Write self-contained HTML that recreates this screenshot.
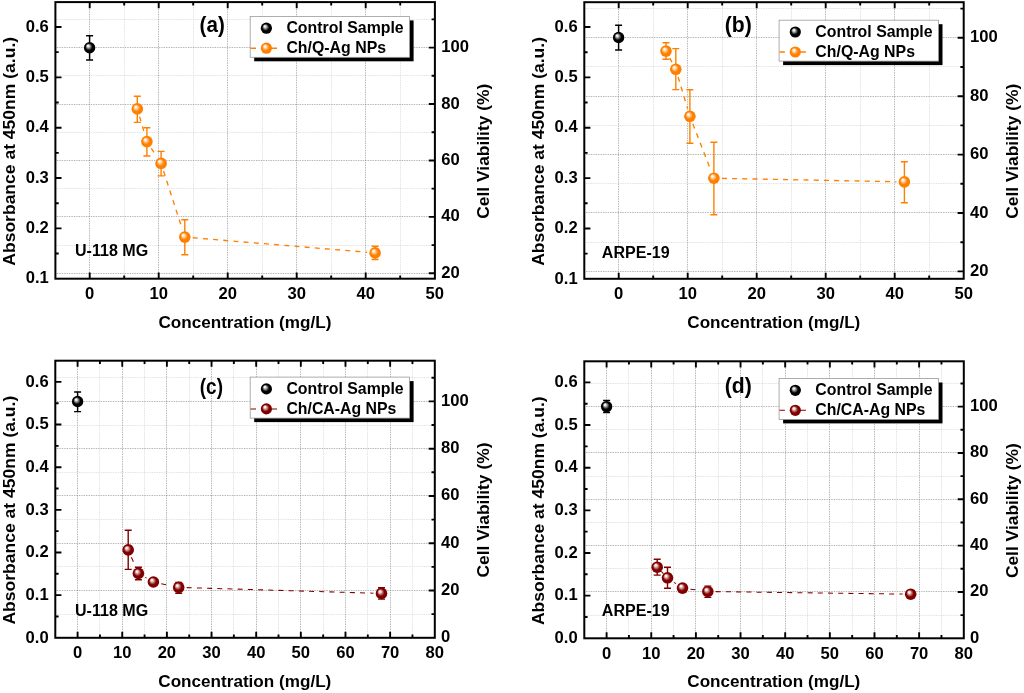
<!DOCTYPE html>
<html lang="en"><head><meta charset="utf-8"><title>Cell viability plots</title>
<style>html,body{margin:0;padding:0;background:#fff}body{width:1024px;height:693px;overflow:hidden}svg{display:block}text{font-family:'Liberation Sans', sans-serif;font-weight:bold;fill:#000}</style>
</head><body>
<svg width="1024" height="693" viewBox="0 0 1024 693">
<defs>
<radialGradient id="gk" cx="0.5" cy="0.5" r="0.5" fx="0.34" fy="0.31"><stop offset="0" stop-color="#f0f0f0"/><stop offset="0.14" stop-color="#f0f0f0"/><stop offset="0.62" stop-color="#000000"/><stop offset="1" stop-color="#000000"/></radialGradient>
<radialGradient id="go" cx="0.5" cy="0.5" r="0.5" fx="0.34" fy="0.31"><stop offset="0" stop-color="#fff6ea"/><stop offset="0.14" stop-color="#fff6ea"/><stop offset="0.62" stop-color="#FF8000"/><stop offset="1" stop-color="#FF8000"/></radialGradient>
<radialGradient id="gw" cx="0.5" cy="0.5" r="0.5" fx="0.34" fy="0.31"><stop offset="0" stop-color="#fff0f0"/><stop offset="0.14" stop-color="#fff0f0"/><stop offset="0.62" stop-color="#800000"/><stop offset="1" stop-color="#800000"/></radialGradient>
</defs>
<rect width="1024" height="693" fill="#fff"/>
<g>
<path d="M124.5 2.1V278.7M193.5 2.1V278.7M262.5 2.1V278.7M331.5 2.1V278.7M400.5 2.1V278.7M55.4 245.5H434.9M55.4 188.5H434.9M55.4 132.5H434.9M55.4 75.5H434.9M55.4 19.5H434.9" stroke="#cfcfcf" stroke-width="0.75" stroke-dasharray="0.8 0.9" fill="none"/>
<path d="M89.5 2.1V278.7M158.5 2.1V278.7M227.5 2.1V278.7M296.5 2.1V278.7M365.5 2.1V278.7M55.4 273.5H434.9M55.4 216.5H434.9M55.4 160.5H434.9M55.4 104.5H434.9M55.4 47.5H434.9" stroke="#868686" stroke-width="0.75" stroke-dasharray="0.8 0.9" fill="none"/>
<path d="M89.7 278.7v-6.1M89.7 2.1v6.1M124.2 278.7v-3.3M124.2 2.1v3.3M158.7 278.7v-6.1M158.7 2.1v6.1M193.2 278.7v-3.3M193.2 2.1v3.3M227.7 278.7v-6.1M227.7 2.1v6.1M262.2 278.7v-3.3M262.2 2.1v3.3M296.7 278.7v-6.1M296.7 2.1v6.1M331.2 278.7v-3.3M331.2 2.1v3.3M365.7 278.7v-6.1M365.7 2.1v6.1M400.2 278.7v-3.3M400.2 2.1v3.3M55.4 228.36h6.1M55.4 178.02h6.1M55.4 127.68h6.1M55.4 77.34h6.1M55.4 27h6.1M55.4 253.53h3.3M55.4 203.19h3.3M55.4 152.85h3.3M55.4 102.51h3.3M55.4 52.17h3.3M434.9 273.32h-6.1M434.9 216.89h-6.1M434.9 160.46h-6.1M434.9 104.03h-6.1M434.9 47.6h-6.1M434.9 245.1h-3.3M434.9 188.67h-3.3M434.9 132.25h-3.3M434.9 75.81h-3.3M434.9 19.39h-3.3" stroke="#000" stroke-width="1.9" fill="none"/>
<rect x="55.4" y="2.1" width="379.5" height="276.6" fill="none" stroke="#000" stroke-width="2"/>
<text x="89.7" y="298.9" font-size="16.6" text-anchor="middle">0</text>
<text x="158.7" y="298.9" font-size="16.6" text-anchor="middle">10</text>
<text x="227.7" y="298.9" font-size="16.6" text-anchor="middle">20</text>
<text x="296.7" y="298.9" font-size="16.6" text-anchor="middle">30</text>
<text x="365.7" y="298.9" font-size="16.6" text-anchor="middle">40</text>
<text x="434.7" y="298.9" font-size="16.6" text-anchor="middle">50</text>
<text x="48.8" y="283.4" font-size="16.6" text-anchor="end">0.1</text>
<text x="48.8" y="233.06" font-size="16.6" text-anchor="end">0.2</text>
<text x="48.8" y="182.72" font-size="16.6" text-anchor="end">0.3</text>
<text x="48.8" y="132.38" font-size="16.6" text-anchor="end">0.4</text>
<text x="48.8" y="82.04" font-size="16.6" text-anchor="end">0.5</text>
<text x="48.8" y="31.7" font-size="16.6" text-anchor="end">0.6</text>
<text x="441.2" y="277.82" font-size="16.6" text-anchor="start">20</text>
<text x="441.2" y="221.39" font-size="16.6" text-anchor="start">40</text>
<text x="441.2" y="164.96" font-size="16.6" text-anchor="start">60</text>
<text x="441.2" y="108.53" font-size="16.6" text-anchor="start">80</text>
<text x="441.2" y="52.1" font-size="16.6" text-anchor="start">100</text>
<text x="14.8" y="151.3" font-size="17.4" text-anchor="middle" textLength="228.8" lengthAdjust="spacingAndGlyphs" transform="rotate(-90 14.8 151.3)">Absorbance at 450nm (a.u.)</text>
<text x="489.3" y="151.2" font-size="17.4" text-anchor="middle" textLength="135" lengthAdjust="spacingAndGlyphs" transform="rotate(-90 489.3 151.2)">Cell Viability (%)</text>
<text x="244.9" y="327.5" font-size="17.1" text-anchor="middle" textLength="173" lengthAdjust="spacingAndGlyphs">Concentration (mg/L)</text>
<text x="199.6" y="32" font-size="21.6" text-anchor="start" textLength="25.2" lengthAdjust="spacingAndGlyphs">(a)</text>
<text x="75" y="255.7" font-size="15.8" text-anchor="start" textLength="73.2" lengthAdjust="spacingAndGlyphs">U-118 MG</text>
<path d="M139.55 116.58L144.65 133.92M151.27 148.3L156.73 156.7M163.55 171.02L182.35 229.48M192.77 237.76L367.13 252.24" stroke="#FF8000" stroke-width="1.35" stroke-dasharray="5 5.2" fill="none"/>
<path d="M89.6 35.7V59.9M86.1 35.7H93.1M86.1 59.9H93.1" stroke="#000" stroke-width="1.45" fill="none"/>
<circle cx="89.6" cy="47.7" r="5.7" fill="url(#gk)"/>
<path d="M137.3 96.2V122.4M133.8 96.2H140.8M133.8 122.4H140.8" stroke="#FF8000" stroke-width="1.4" fill="none"/>
<path d="M146.9 127.8V156M143.4 127.8H150.4M143.4 156H150.4" stroke="#FF8000" stroke-width="1.4" fill="none"/>
<path d="M161.1 151.4V175.9M157.6 151.4H164.6M157.6 175.9H164.6" stroke="#FF8000" stroke-width="1.4" fill="none"/>
<path d="M184.8 219.7V254.8M181.3 219.7H188.3M181.3 254.8H188.3" stroke="#FF8000" stroke-width="1.4" fill="none"/>
<path d="M375.1 246.3V259.5M371.6 246.3H378.6M371.6 259.5H378.6" stroke="#FF8000" stroke-width="1.4" fill="none"/>
<circle cx="137.3" cy="108.9" r="5.8" fill="url(#go)"/>
<circle cx="146.9" cy="141.6" r="5.8" fill="url(#go)"/>
<circle cx="161.1" cy="163.4" r="5.8" fill="url(#go)"/>
<circle cx="184.8" cy="237.1" r="5.8" fill="url(#go)"/>
<circle cx="375.1" cy="252.9" r="5.8" fill="url(#go)"/>
<rect x="254.2" y="20.4" width="159.4" height="40.9" fill="#000"/>
<rect x="250.2" y="16.4" width="159.4" height="40.9" fill="#fff" stroke="#9a9a9a" stroke-width="0.8"/>
<path d="M250.6 48.2h5.4M271.4 48.2h5.6" stroke="#FF8000" stroke-width="1.35" fill="none"/>
<circle cx="266.4" cy="28.2" r="5.6" fill="url(#gk)"/>
<circle cx="266.4" cy="48.2" r="5.6" fill="url(#go)"/>
<text x="286.4" y="33.2" font-size="15.9" text-anchor="start" textLength="117.3" lengthAdjust="spacingAndGlyphs">Control Sample</text>
<text x="286.4" y="53.1" font-size="15.9" text-anchor="start" textLength="99.7" lengthAdjust="spacingAndGlyphs">Ch/Q-Ag NPs</text>
</g>
<g>
<path d="M653.5 2.2V278.8M722.5 2.2V278.8M791.5 2.2V278.8M860.5 2.2V278.8M929.5 2.2V278.8M584.3 242.5H963.7M584.3 183.5H963.7M584.3 125.5H963.7M584.3 66.5H963.7M584.3 8.5H963.7" stroke="#cfcfcf" stroke-width="0.75" stroke-dasharray="0.8 0.9" fill="none"/>
<path d="M618.5 2.2V278.8M687.5 2.2V278.8M756.5 2.2V278.8M825.5 2.2V278.8M894.5 2.2V278.8M584.3 271.5H963.7M584.3 212.5H963.7M584.3 154.5H963.7M584.3 96.5H963.7M584.3 37.5H963.7" stroke="#868686" stroke-width="0.75" stroke-dasharray="0.8 0.9" fill="none"/>
<path d="M618.7 278.8v-6.1M618.7 2.2v6.1M653.2 278.8v-3.3M653.2 2.2v3.3M687.7 278.8v-6.1M687.7 2.2v6.1M722.2 278.8v-3.3M722.2 2.2v3.3M756.7 278.8v-6.1M756.7 2.2v6.1M791.2 278.8v-3.3M791.2 2.2v3.3M825.7 278.8v-6.1M825.7 2.2v6.1M860.2 278.8v-3.3M860.2 2.2v3.3M894.7 278.8v-6.1M894.7 2.2v6.1M929.2 278.8v-3.3M929.2 2.2v3.3M584.3 228.44h6.1M584.3 178.08h6.1M584.3 127.72h6.1M584.3 77.36h6.1M584.3 27h6.1M584.3 253.62h3.3M584.3 203.26h3.3M584.3 152.9h3.3M584.3 102.54h3.3M584.3 52.18h3.3M963.7 271.4h-6.1M963.7 213h-6.1M963.7 154.6h-6.1M963.7 96.2h-6.1M963.7 37.8h-6.1M963.7 242.2h-3.3M963.7 183.8h-3.3M963.7 125.4h-3.3M963.7 67h-3.3M963.7 8.6h-3.3" stroke="#000" stroke-width="1.9" fill="none"/>
<rect x="584.3" y="2.2" width="379.4" height="276.6" fill="none" stroke="#000" stroke-width="2"/>
<text x="618.7" y="299" font-size="16.6" text-anchor="middle">0</text>
<text x="687.7" y="299" font-size="16.6" text-anchor="middle">10</text>
<text x="756.7" y="299" font-size="16.6" text-anchor="middle">20</text>
<text x="825.7" y="299" font-size="16.6" text-anchor="middle">30</text>
<text x="894.7" y="299" font-size="16.6" text-anchor="middle">40</text>
<text x="963.7" y="299" font-size="16.6" text-anchor="middle">50</text>
<text x="577.7" y="283.5" font-size="16.6" text-anchor="end">0.1</text>
<text x="577.7" y="233.14" font-size="16.6" text-anchor="end">0.2</text>
<text x="577.7" y="182.78" font-size="16.6" text-anchor="end">0.3</text>
<text x="577.7" y="132.42" font-size="16.6" text-anchor="end">0.4</text>
<text x="577.7" y="82.06" font-size="16.6" text-anchor="end">0.5</text>
<text x="577.7" y="31.7" font-size="16.6" text-anchor="end">0.6</text>
<text x="970" y="275.9" font-size="16.6" text-anchor="start">20</text>
<text x="970" y="217.5" font-size="16.6" text-anchor="start">40</text>
<text x="970" y="159.1" font-size="16.6" text-anchor="start">60</text>
<text x="970" y="100.7" font-size="16.6" text-anchor="start">80</text>
<text x="970" y="42.3" font-size="16.6" text-anchor="start">100</text>
<text x="543.7" y="151.4" font-size="17.4" text-anchor="middle" textLength="228.8" lengthAdjust="spacingAndGlyphs" transform="rotate(-90 543.7 151.4)">Absorbance at 450nm (a.u.)</text>
<text x="1018.1" y="151.3" font-size="17.4" text-anchor="middle" textLength="135" lengthAdjust="spacingAndGlyphs" transform="rotate(-90 1018.1 151.3)">Cell Viability (%)</text>
<text x="773.8" y="327.6" font-size="17.1" text-anchor="middle" textLength="173" lengthAdjust="spacingAndGlyphs">Concentration (mg/L)</text>
<text x="724.8" y="31.6" font-size="21.6" text-anchor="start" textLength="27" lengthAdjust="spacingAndGlyphs">(b)</text>
<text x="601.8" y="258.4" font-size="15.8" text-anchor="start" textLength="67.8" lengthAdjust="spacingAndGlyphs">ARPE-19</text>
<path d="M669.79 58.14L672.01 62.26M678.1 76.96L687.6 108.64M692.79 123.76L711.01 170.74M721.9 178.36L896.4 181.74" stroke="#FF8000" stroke-width="1.35" stroke-dasharray="5 5.2" fill="none"/>
<path d="M618.6 25.2V50M615.1 25.2H622.1M615.1 50H622.1" stroke="#000" stroke-width="1.45" fill="none"/>
<circle cx="618.6" cy="37.5" r="5.7" fill="url(#gk)"/>
<path d="M666 42.8V59.2M662.5 42.8H669.5M662.5 59.2H669.5" stroke="#FF8000" stroke-width="1.4" fill="none"/>
<path d="M675.8 48.6V89.6M672.3 48.6H679.3M672.3 89.6H679.3" stroke="#FF8000" stroke-width="1.4" fill="none"/>
<path d="M689.9 89.8V143.3M686.4 89.8H693.4M686.4 143.3H693.4" stroke="#FF8000" stroke-width="1.4" fill="none"/>
<path d="M713.9 142.3V214.7M710.4 142.3H717.4M710.4 214.7H717.4" stroke="#FF8000" stroke-width="1.4" fill="none"/>
<path d="M904.4 161.8V202.8M900.9 161.8H907.9M900.9 202.8H907.9" stroke="#FF8000" stroke-width="1.4" fill="none"/>
<circle cx="666" cy="51.1" r="5.8" fill="url(#go)"/>
<circle cx="675.8" cy="69.3" r="5.8" fill="url(#go)"/>
<circle cx="689.9" cy="116.3" r="5.8" fill="url(#go)"/>
<circle cx="713.9" cy="178.2" r="5.8" fill="url(#go)"/>
<circle cx="904.4" cy="181.9" r="5.8" fill="url(#go)"/>
<rect x="783.1" y="24.2" width="159.4" height="40.9" fill="#000"/>
<rect x="779.1" y="20.2" width="159.4" height="40.9" fill="#fff" stroke="#9a9a9a" stroke-width="0.8"/>
<path d="M779.5 52h5.4M800.3 52h5.6" stroke="#FF8000" stroke-width="1.35" fill="none"/>
<circle cx="795.3" cy="32" r="5.6" fill="url(#gk)"/>
<circle cx="795.3" cy="52" r="5.6" fill="url(#go)"/>
<text x="815.3" y="37" font-size="15.9" text-anchor="start" textLength="117.3" lengthAdjust="spacingAndGlyphs">Control Sample</text>
<text x="815.3" y="56.9" font-size="15.9" text-anchor="start" textLength="99.7" lengthAdjust="spacingAndGlyphs">Ch/Q-Ag NPs</text>
</g>
<g>
<path d="M99.5 360.7V637.8M144.5 360.7V637.8M189.5 360.7V637.8M233.5 360.7V637.8M278.5 360.7V637.8M323.5 360.7V637.8M367.5 360.7V637.8M412.5 360.7V637.8M55.3 614.5H434.8M55.3 566.5H434.8M55.3 519.5H434.8M55.3 472.5H434.8M55.3 425.5H434.8M55.3 377.5H434.8" stroke="#cfcfcf" stroke-width="0.75" stroke-dasharray="0.8 0.9" fill="none"/>
<path d="M77.5 360.7V637.8M122.5 360.7V637.8M166.5 360.7V637.8M211.5 360.7V637.8M256.5 360.7V637.8M300.5 360.7V637.8M345.5 360.7V637.8M390.5 360.7V637.8M55.3 637.5H434.8M55.3 590.5H434.8M55.3 543.5H434.8M55.3 495.5H434.8M55.3 448.5H434.8M55.3 401.5H434.8" stroke="#868686" stroke-width="0.75" stroke-dasharray="0.8 0.9" fill="none"/>
<path d="M77.6 637.8v-6.1M77.6 360.7v6.1M99.92 637.8v-3.3M99.92 360.7v3.3M122.25 637.8v-6.1M122.25 360.7v6.1M144.57 637.8v-3.3M144.57 360.7v3.3M166.89 637.8v-6.1M166.89 360.7v6.1M189.22 637.8v-3.3M189.22 360.7v3.3M211.54 637.8v-6.1M211.54 360.7v6.1M233.86 637.8v-3.3M233.86 360.7v3.3M256.19 637.8v-6.1M256.19 360.7v6.1M278.51 637.8v-3.3M278.51 360.7v3.3M300.83 637.8v-6.1M300.83 360.7v6.1M323.16 637.8v-3.3M323.16 360.7v3.3M345.48 637.8v-6.1M345.48 360.7v6.1M367.81 637.8v-3.3M367.81 360.7v3.3M390.13 637.8v-6.1M390.13 360.7v6.1M412.45 637.8v-3.3M412.45 360.7v3.3M55.3 595.15h6.1M55.3 552.5h6.1M55.3 509.85h6.1M55.3 467.2h6.1M55.3 424.55h6.1M55.3 381.9h6.1M55.3 616.47h3.3M55.3 573.82h3.3M55.3 531.17h3.3M55.3 488.52h3.3M55.3 445.87h3.3M55.3 403.22h3.3M434.8 590.52h-6.1M434.8 543.24h-6.1M434.8 495.96h-6.1M434.8 448.68h-6.1M434.8 401.4h-6.1M434.8 614.16h-3.3M434.8 566.88h-3.3M434.8 519.6h-3.3M434.8 472.32h-3.3M434.8 425.04h-3.3M434.8 377.76h-3.3" stroke="#000" stroke-width="1.9" fill="none"/>
<rect x="55.3" y="360.7" width="379.5" height="277.1" fill="none" stroke="#000" stroke-width="2"/>
<text x="77.6" y="658" font-size="16.6" text-anchor="middle">0</text>
<text x="122.25" y="658" font-size="16.6" text-anchor="middle">10</text>
<text x="166.89" y="658" font-size="16.6" text-anchor="middle">20</text>
<text x="211.54" y="658" font-size="16.6" text-anchor="middle">30</text>
<text x="256.19" y="658" font-size="16.6" text-anchor="middle">40</text>
<text x="300.83" y="658" font-size="16.6" text-anchor="middle">50</text>
<text x="345.48" y="658" font-size="16.6" text-anchor="middle">60</text>
<text x="390.13" y="658" font-size="16.6" text-anchor="middle">70</text>
<text x="434.78" y="658" font-size="16.6" text-anchor="middle">80</text>
<text x="48.7" y="642.5" font-size="16.6" text-anchor="end">0.0</text>
<text x="48.7" y="599.85" font-size="16.6" text-anchor="end">0.1</text>
<text x="48.7" y="557.2" font-size="16.6" text-anchor="end">0.2</text>
<text x="48.7" y="514.55" font-size="16.6" text-anchor="end">0.3</text>
<text x="48.7" y="471.9" font-size="16.6" text-anchor="end">0.4</text>
<text x="48.7" y="429.25" font-size="16.6" text-anchor="end">0.5</text>
<text x="48.7" y="386.6" font-size="16.6" text-anchor="end">0.6</text>
<text x="441.1" y="642.3" font-size="16.6" text-anchor="start">0</text>
<text x="441.1" y="595.02" font-size="16.6" text-anchor="start">20</text>
<text x="441.1" y="547.74" font-size="16.6" text-anchor="start">40</text>
<text x="441.1" y="500.46" font-size="16.6" text-anchor="start">60</text>
<text x="441.1" y="453.18" font-size="16.6" text-anchor="start">80</text>
<text x="441.1" y="405.9" font-size="16.6" text-anchor="start">100</text>
<text x="14.7" y="510.15" font-size="17.4" text-anchor="middle" textLength="228.8" lengthAdjust="spacingAndGlyphs" transform="rotate(-90 14.7 510.15)">Absorbance at 450nm (a.u.)</text>
<text x="489.2" y="510.05" font-size="17.4" text-anchor="middle" textLength="135" lengthAdjust="spacingAndGlyphs" transform="rotate(-90 489.2 510.05)">Cell Viability (%)</text>
<text x="244.8" y="686.6" font-size="17.1" text-anchor="middle" textLength="173" lengthAdjust="spacingAndGlyphs">Concentration (mg/L)</text>
<text x="199.8" y="393.7" font-size="21.6" text-anchor="start" textLength="23.2" lengthAdjust="spacingAndGlyphs">(c)</text>
<text x="75" y="616" font-size="15.8" text-anchor="start" textLength="73.2" lengthAdjust="spacingAndGlyphs">U-118 MG</text>
<path d="M131.39 557.24L135.21 566.06M145.34 577.38L146.46 578.02M161.22 583.67L170.88 585.73M186.7 587.64L373.5 593.16" stroke="#800000" stroke-width="1.05" stroke-dasharray="5 5.2" fill="none"/>
<path d="M77.6 392V411.6M74.1 392H81.1M74.1 411.6H81.1" stroke="#000" stroke-width="1.45" fill="none"/>
<circle cx="77.6" cy="401.5" r="5.7" fill="url(#gk)"/>
<path d="M128.2 530.3V569.4M124.7 530.3H131.7M124.7 569.4H131.7" stroke="#800000" stroke-width="1.4" fill="none"/>
<path d="M138.4 567.3V579.7M134.9 567.3H141.9M134.9 579.7H141.9" stroke="#800000" stroke-width="1.4" fill="none"/>
<path d="M178.7 582.4V593.2M175.2 582.4H182.2M175.2 593.2H182.2" stroke="#800000" stroke-width="1.4" fill="none"/>
<path d="M381.5 587.8V599.1M378 587.8H385M378 599.1H385" stroke="#800000" stroke-width="1.4" fill="none"/>
<circle cx="128.2" cy="549.9" r="5.8" fill="url(#gw)"/>
<circle cx="138.4" cy="573.4" r="5.8" fill="url(#gw)"/>
<circle cx="153.4" cy="582" r="5.8" fill="url(#gw)"/>
<circle cx="178.7" cy="587.4" r="5.8" fill="url(#gw)"/>
<circle cx="381.5" cy="593.4" r="5.8" fill="url(#gw)"/>
<rect x="254.2" y="381.1" width="159.4" height="41" fill="#000"/>
<rect x="250.2" y="377.1" width="159.4" height="41" fill="#fff" stroke="#9a9a9a" stroke-width="0.8"/>
<path d="M250.6 408.9h5.4M271.4 408.9h5.6" stroke="#800000" stroke-width="1.05" fill="none"/>
<circle cx="266.4" cy="388.9" r="5.6" fill="url(#gk)"/>
<circle cx="266.4" cy="408.9" r="5.6" fill="url(#gw)"/>
<text x="286.4" y="393.9" font-size="15.9" text-anchor="start" textLength="117.3" lengthAdjust="spacingAndGlyphs">Control Sample</text>
<text x="286.4" y="413.8" font-size="15.9" text-anchor="start" textLength="110" lengthAdjust="spacingAndGlyphs">Ch/CA-Ag NPs</text>
</g>
<g>
<path d="M628.5 361.3V638.3M673.5 361.3V638.3M718.5 361.3V638.3M762.5 361.3V638.3M807.5 361.3V638.3M852.5 361.3V638.3M896.5 361.3V638.3M941.5 361.3V638.3M584.3 615.5H963.8M584.3 568.5H963.8M584.3 522.5H963.8M584.3 476.5H963.8M584.3 429.5H963.8M584.3 383.5H963.8" stroke="#cfcfcf" stroke-width="0.75" stroke-dasharray="0.8 0.9" fill="none"/>
<path d="M606.5 361.3V638.3M651.5 361.3V638.3M695.5 361.3V638.3M740.5 361.3V638.3M785.5 361.3V638.3M829.5 361.3V638.3M874.5 361.3V638.3M919.5 361.3V638.3M584.3 638.5H963.8M584.3 591.5H963.8M584.3 545.5H963.8M584.3 499.5H963.8M584.3 452.5H963.8M584.3 406.5H963.8" stroke="#868686" stroke-width="0.75" stroke-dasharray="0.8 0.9" fill="none"/>
<path d="M606.6 638.3v-6.1M606.6 361.3v6.1M628.92 638.3v-3.3M628.92 361.3v3.3M651.25 638.3v-6.1M651.25 361.3v6.1M673.57 638.3v-3.3M673.57 361.3v3.3M695.89 638.3v-6.1M695.89 361.3v6.1M718.22 638.3v-3.3M718.22 361.3v3.3M740.54 638.3v-6.1M740.54 361.3v6.1M762.86 638.3v-3.3M762.86 361.3v3.3M785.19 638.3v-6.1M785.19 361.3v6.1M807.51 638.3v-3.3M807.51 361.3v3.3M829.84 638.3v-6.1M829.84 361.3v6.1M852.16 638.3v-3.3M852.16 361.3v3.3M874.48 638.3v-6.1M874.48 361.3v6.1M896.81 638.3v-3.3M896.81 361.3v3.3M919.13 638.3v-6.1M919.13 361.3v6.1M941.45 638.3v-3.3M941.45 361.3v3.3M584.3 595.65h6.1M584.3 553h6.1M584.3 510.35h6.1M584.3 467.7h6.1M584.3 425.05h6.1M584.3 382.4h6.1M584.3 616.97h3.3M584.3 574.32h3.3M584.3 531.67h3.3M584.3 489.02h3.3M584.3 446.37h3.3M584.3 403.72h3.3M963.8 591.96h-6.1M963.8 545.62h-6.1M963.8 499.28h-6.1M963.8 452.94h-6.1M963.8 406.6h-6.1M963.8 615.13h-3.3M963.8 568.79h-3.3M963.8 522.45h-3.3M963.8 476.11h-3.3M963.8 429.77h-3.3M963.8 383.43h-3.3" stroke="#000" stroke-width="1.9" fill="none"/>
<rect x="584.3" y="361.3" width="379.5" height="277" fill="none" stroke="#000" stroke-width="2"/>
<text x="606.6" y="658.5" font-size="16.6" text-anchor="middle">0</text>
<text x="651.25" y="658.5" font-size="16.6" text-anchor="middle">10</text>
<text x="695.89" y="658.5" font-size="16.6" text-anchor="middle">20</text>
<text x="740.54" y="658.5" font-size="16.6" text-anchor="middle">30</text>
<text x="785.19" y="658.5" font-size="16.6" text-anchor="middle">40</text>
<text x="829.84" y="658.5" font-size="16.6" text-anchor="middle">50</text>
<text x="874.48" y="658.5" font-size="16.6" text-anchor="middle">60</text>
<text x="919.13" y="658.5" font-size="16.6" text-anchor="middle">70</text>
<text x="963.78" y="658.5" font-size="16.6" text-anchor="middle">80</text>
<text x="577.7" y="643" font-size="16.6" text-anchor="end">0.0</text>
<text x="577.7" y="600.35" font-size="16.6" text-anchor="end">0.1</text>
<text x="577.7" y="557.7" font-size="16.6" text-anchor="end">0.2</text>
<text x="577.7" y="515.05" font-size="16.6" text-anchor="end">0.3</text>
<text x="577.7" y="472.4" font-size="16.6" text-anchor="end">0.4</text>
<text x="577.7" y="429.75" font-size="16.6" text-anchor="end">0.5</text>
<text x="577.7" y="387.1" font-size="16.6" text-anchor="end">0.6</text>
<text x="970.1" y="642.8" font-size="16.6" text-anchor="start">0</text>
<text x="970.1" y="596.46" font-size="16.6" text-anchor="start">20</text>
<text x="970.1" y="550.12" font-size="16.6" text-anchor="start">40</text>
<text x="970.1" y="503.78" font-size="16.6" text-anchor="start">60</text>
<text x="970.1" y="457.44" font-size="16.6" text-anchor="start">80</text>
<text x="970.1" y="411.1" font-size="16.6" text-anchor="start">100</text>
<text x="543.7" y="510.7" font-size="17.4" text-anchor="middle" textLength="228.8" lengthAdjust="spacingAndGlyphs" transform="rotate(-90 543.7 510.7)">Absorbance at 450nm (a.u.)</text>
<text x="1018.2" y="510.6" font-size="17.4" text-anchor="middle" textLength="135" lengthAdjust="spacingAndGlyphs" transform="rotate(-90 1018.2 510.6)">Cell Viability (%)</text>
<text x="773.8" y="687.1" font-size="17.1" text-anchor="middle" textLength="173" lengthAdjust="spacingAndGlyphs">Concentration (mg/L)</text>
<text x="724.8" y="393.3" font-size="21.6" text-anchor="start" textLength="27" lengthAdjust="spacingAndGlyphs">(d)</text>
<text x="601.8" y="616.2" font-size="15.8" text-anchor="start" textLength="67.8" lengthAdjust="spacingAndGlyphs">ARPE-19</text>
<path d="M661.3 571.42L663.4 573.58M674.09 582.33L675.91 583.57M690.43 589.17L699.87 590.43M715.8 591.61L902.7 594.09" stroke="#800000" stroke-width="1.05" stroke-dasharray="5 5.2" fill="none"/>
<path d="M606.6 400.5V412.5M603.1 400.5H610.1M603.1 412.5H610.1" stroke="#000" stroke-width="1.45" fill="none"/>
<circle cx="606.6" cy="406.6" r="5.7" fill="url(#gk)"/>
<path d="M657.2 559.3V575.1M653.7 559.3H660.7M653.7 575.1H660.7" stroke="#800000" stroke-width="1.4" fill="none"/>
<path d="M667.5 567.2V588.3M664 567.2H671M664 588.3H671" stroke="#800000" stroke-width="1.4" fill="none"/>
<path d="M707.8 586.1V597.4M704.3 586.1H711.3M704.3 597.4H711.3" stroke="#800000" stroke-width="1.4" fill="none"/>
<circle cx="657.2" cy="567.2" r="5.8" fill="url(#gw)"/>
<circle cx="667.5" cy="577.8" r="5.8" fill="url(#gw)"/>
<circle cx="682.5" cy="588.1" r="5.8" fill="url(#gw)"/>
<circle cx="707.8" cy="591.5" r="5.8" fill="url(#gw)"/>
<circle cx="910.7" cy="594.2" r="5.8" fill="url(#gw)"/>
<rect x="783.1" y="382.5" width="159.4" height="40.9" fill="#000"/>
<rect x="779.1" y="378.5" width="159.4" height="40.9" fill="#fff" stroke="#9a9a9a" stroke-width="0.8"/>
<path d="M779.5 410.3h5.4M800.3 410.3h5.6" stroke="#800000" stroke-width="1.05" fill="none"/>
<circle cx="795.3" cy="390.3" r="5.6" fill="url(#gk)"/>
<circle cx="795.3" cy="410.3" r="5.6" fill="url(#gw)"/>
<text x="815.3" y="395.3" font-size="15.9" text-anchor="start" textLength="117.3" lengthAdjust="spacingAndGlyphs">Control Sample</text>
<text x="815.3" y="415.2" font-size="15.9" text-anchor="start" textLength="110" lengthAdjust="spacingAndGlyphs">Ch/CA-Ag NPs</text>
</g>
</svg>
</body></html>
